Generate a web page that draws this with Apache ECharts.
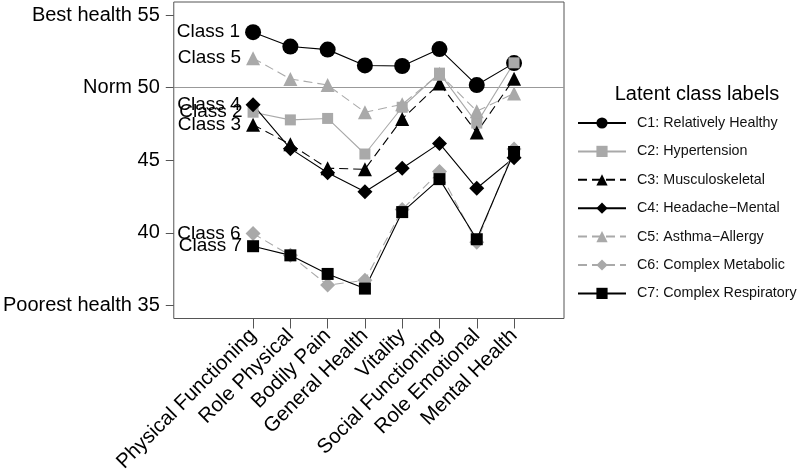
<!DOCTYPE html>
<html><head><meta charset="utf-8">
<script src="https://cdn.jsdelivr.net/npm/echarts@6/dist/echarts.min.js"></script>
<style>html,body{margin:0;padding:0;background:#fff}#c{width:800px;height:475px}</style>
</head><body><div id="c"></div>
<script>
const categories = ['Physical Functioning','Role Physical','Bodily Pain','General Health','Vitality','Social Functioning','Role Emotional','Mental Health'];
const yTickValues = [35, 40, 45, 50, 55];
const yTickLabels = ['Poorest health 35', '40', '45', 'Norm 50', 'Best health 55'];
const seriesNames = ['C1: Relatively Healthy','C2: Hypertension','C3: Musculoskeletal','C4: Headache\u2212Mental','C5: Asthma\u2212Allergy','C6: Complex Metabolic','C7: Complex Respiratory'];
const classLabels = ['Class 1','Class 2','Class 3','Class 4','Class 5','Class 6','Class 7'];
const c1 = [53.82, 52.83, 52.62, 51.53, 51.49, 52.66, 50.18, 51.69];
const c2 = [48.31, 47.78, 47.88, 45.43, 48.65, 51.00, 47.56, 51.71];
const c3 = [47.45, 46.10, 44.45, 44.38, 47.85, 50.28, 46.92, 50.62];
const c4 = [48.82, 45.80, 44.14, 42.83, 44.45, 46.16, 43.07, 45.18];
const c5 = [52.03, 50.60, 50.18, 48.31, 48.85, 50.95, 48.38, 49.60];
const c6 = [39.95, 38.45, 36.40, 36.73, 41.60, 44.22, 39.36, 45.78];
const c7 = [39.08, 38.45, 37.17, 36.16, 41.43, 43.70, 39.56, 45.57];
const normValue = 50;

const GRAY = '#a9a9a9';
const FONT = 'Liberation Sans, Arial, Helvetica, sans-serif';
const allData = [c1,c2,c3,c4,c5,c6,c7];
const styles = [
  {color:'#000', type:'solid', symbol:'circle', size:16},
  {color:GRAY, type:'solid', symbol:'rect', size:11},
  {color:'#000', type:[9,5], symbol:'triangle', size:14},
  {color:'#000', type:'solid', symbol:'diamond', size:15},
  {color:GRAY, type:[9,5], symbol:'triangle', size:14},
  {color:GRAY, type:[9,5], symbol:'diamond', size:15},
  {color:'#000', type:'solid', symbol:'rect', size:12}
];
const series = allData.map((arr, k) => {
  const st = styles[k];
  const s = {
    name: seriesNames[k], type: 'line',
    data: arr.map((v, i) => {
      const d = {value: [i, v]};
      if (i === 0) d.label = {show: true, position: 'left', distance: 5, formatter: classLabels[k], color: '#000', fontSize: 19, fontFamily: FONT};
      return d;
    }),
    symbol: st.symbol, symbolSize: st.size,
    itemStyle: {color: st.color, opacity: 1},
    lineStyle: {color: st.color, width: 1.1, type: st.type},
    emphasis: {disabled: true},
    animation: false
  };
  if (k === 0) {
    s.markLine = {silent: true, symbol: 'none', label: {show: false},
      lineStyle: {color: '#999', type: 'solid', width: 1.2},
      data: [{yAxis: normValue}], animation: false, z: 1};
  }
  return s;
});

const chart = echarts.init(document.getElementById('c'));
chart.setOption({
  animation: false,
  backgroundColor: '#fff',
  title: {text: 'Latent class labels', left: 692, top: 79, textAlign: 'center',
    textStyle: {fontSize: 20, fontWeight: 'normal', color: '#000', fontFamily: FONT}},
  legend: {orient: 'vertical', left: 572, top: 111, itemWidth: 48, itemHeight: 14, itemGap: 14.4,
    textStyle: {fontSize: 14.3, lineHeight: 14, color: '#111', fontFamily: FONT, padding: [0,0,0,6]},
    data: seriesNames},
  grid: {left: 172, top: 2, right: 236, bottom: 154, show: true, borderColor: '#555', borderWidth: 1},
  xAxis: {type: 'value', min: -2.127, max: 8.34,
    axisLine: {show: false, onZero: false}, splitLine: {show: false},
    axisTick: {show: true, length: 10, lineStyle: {color: '#555'}, customValues: categories.map((c, i) => i)},
    axisLabel: {rotate: 45, margin: 14, fontSize: 20.5, color: '#000', fontFamily: FONT,
      customValues: categories.map((c, i) => i), formatter: v => categories[Math.round(v)]}},
  yAxis: {type: 'value', min: 34.1, max: 55.9,
    axisLine: {show: false, onZero: false}, splitLine: {show: false},
    axisTick: {show: true, length: 8, lineStyle: {color: '#555'}, customValues: yTickValues},
    axisLabel: {margin: 14, fontSize: 20, color: '#000', fontFamily: FONT, customValues: yTickValues,
      formatter: v => yTickLabels[yTickValues.indexOf(Math.round(v))]}},
  series: series
});
</script></body></html>
